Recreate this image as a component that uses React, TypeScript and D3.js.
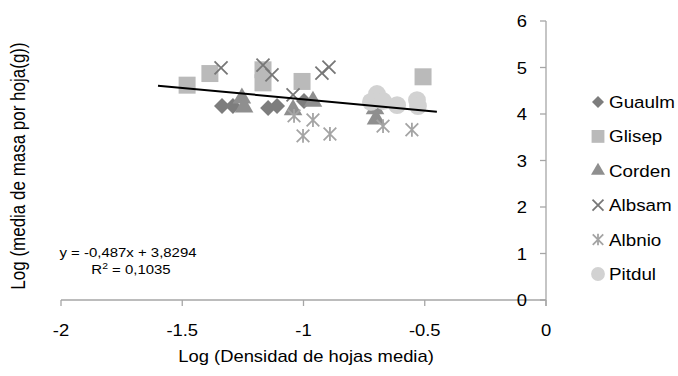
import React from "react";
import * as d3 from "d3";

// Series values: [log leaf density, log leaf mass]
const guaulm: [number, number][] = [
  [-1.336, 4.17], [-1.291, 4.17], [-1.146, 4.13], [-1.109, 4.17], [-0.998, 4.28],
];
const glisep: [number, number][] = [
  [-1.48, 4.62], [-1.386, 4.87], [-1.167, 4.95], [-1.167, 4.67], [-1.006, 4.7], [-0.507, 4.8],
];
const corden: [number, number][] = [
  [-1.254, 4.34], [-1.245, 4.15], [-1.043, 4.09], [-0.961, 4.27], [-0.705, 4.11], [-0.701, 3.89],
];
const albsam: [number, number][] = [
  [-1.34, 4.99], [-1.167, 5.05], [-1.13, 4.84], [-1.043, 4.41], [-0.924, 4.88], [-0.895, 5.01],
];
const albnio: [number, number][] = [
  [-1.039, 3.96], [-0.961, 3.87], [-1.002, 3.53], [-0.891, 3.57], [-0.672, 3.74], [-0.553, 3.66],
];
const pitdul: [number, number][] = [
  [-0.697, 4.43], [-0.722, 4.26], [-0.672, 4.28], [-0.614, 4.19], [-0.532, 4.3], [-0.528, 4.17],
];

const seriesNames = ["Guaulm", "Glisep", "Corden", "Albsam", "Albnio", "Pitdul"];
const xTicks = [-2, -1.5, -1, -0.5, 0];
const yTicks = [0, 1, 2, 3, 4, 5, 6];
const trendSlope = -0.487;
const trendIntercept = 3.8294;
const trendR2 = "0,1035";
const trendRange = [-1.6, -0.45];

const W = 678;
const H = 376;
const FONT = "'Liberation Sans', Arial, sans-serif";
const AXIS = "#a6a6a6";

const x = d3.scaleLinear().domain([-2, 0]).range([61, 546]);
const y = d3.scaleLinear().domain([0, 6]).range([300, 21]);

// Excel-style marker shapes
const crossType: d3.SymbolType = {
  draw(ctx, size) {
    const r = Math.sqrt(size) / 2;
    ctx.moveTo(-r, -r); ctx.lineTo(r, r);
    ctx.moveTo(-r, r); ctx.lineTo(r, -r);
  },
};
const starType: d3.SymbolType = {
  draw(ctx, size) {
    const r = Math.sqrt(size) / 2;
    ctx.moveTo(-r, -r); ctx.lineTo(r, r);
    ctx.moveTo(-r, r); ctx.lineTo(r, -r);
    ctx.moveTo(0, -r * 1.1); ctx.lineTo(0, r * 1.1);
  },
};

type Style = {
  type: d3.SymbolType;
  size: number;
  legendSize: number;
  fill: string;
  stroke: string;
  rotate: number;
};

const styles: Style[] = [
  { type: d3.symbolSquare, size: 128, legendSize: 72, fill: "#7d7d7d", stroke: "none", rotate: 45 },
  { type: d3.symbolSquare, size: 289, legendSize: 165, fill: "#bababa", stroke: "none", rotate: 0 },
  { type: d3.symbolTriangle, size: 150, legendSize: 85, fill: "#8f8f8f", stroke: "none", rotate: 0 },
  { type: crossType, size: 170, legendSize: 120, fill: "none", stroke: "#777777", rotate: 0 },
  { type: starType, size: 160, legendSize: 110, fill: "none", stroke: "#a4a4a4", rotate: 0 },
  { type: d3.symbolCircle, size: 250, legendSize: 150, fill: "#d2d2d2", stroke: "none", rotate: 0 },
];

const allSeries = [guaulm, glisep, corden, albsam, albnio, pitdul];

function SText(props: {
  x: number; y: number; size: number; sx?: number; anchor?: string; children: React.ReactNode;
}) {
  const { x: tx, y: ty, size, sx = 1.15, anchor = "start", children } = props;
  return (
    <text
      transform={`translate(${tx},${ty}) scale(${sx},1)`}
      fontSize={size}
      fontFamily={FONT}
      textAnchor={anchor}
      fill="#000"
    >
      {children}
    </text>
  );
}

function Marker({ s, cx, cy, legend }: { s: Style; cx: number; cy: number; legend?: boolean }) {
  const d = d3.symbol().type(s.type).size(legend ? s.legendSize : s.size)() || "";
  return (
    <path
      d={d}
      transform={`translate(${cx},${cy}) rotate(${s.rotate})`}
      fill={s.fill}
      stroke={s.stroke}
      strokeWidth={s.stroke === "none" ? 0 : 1.8}
    />
  );
}

export default function App() {
  const trendLine = d3
    .line<number>()
    .x((v) => x(v))
    .y((v) => y(trendSlope * v + trendIntercept));

  const legendY = d3.scalePoint<string>().domain(seriesNames).range([102, 274]);

  return (
    <svg
      width={W}
      height={H}
      style={{ position: "absolute", left: 0, top: 0, background: "#fff" }}
    >
      <rect width={W} height={H} fill="#fff" />

      {/* x axis */}
      <line x1={x(-2)} x2={x(0)} y1={y(0)} y2={y(0)} stroke={AXIS} strokeWidth={1.3} />
      {xTicks.map((t) => (
        <g key={"xt" + t}>
          <line x1={x(t)} x2={x(t)} y1={y(0)} y2={y(0) + 6} stroke={AXIS} strokeWidth={1.3} />
          <SText x={x(t)} y={336} size={16} anchor="middle">
            {String(t)}
          </SText>
        </g>
      ))}

      {/* y axis on the right */}
      <line x1={x(0)} x2={x(0)} y1={y(6)} y2={y(0) + 6} stroke={AXIS} strokeWidth={1.3} />
      {yTicks.map((t) => (
        <g key={"yt" + t}>
          <line x1={x(0) - 6} x2={x(0)} y1={y(t)} y2={y(t)} stroke={AXIS} strokeWidth={1.3} />
          <SText x={527} y={y(t) + 6} size={16} anchor="end">
            {String(t)}
          </SText>
        </g>
      ))}

      {/* axis titles */}
      <SText x={306} y={362} size={16} anchor="middle">
        Log (Densidad de hojas media)
      </SText>
      <text
        transform={`translate(25,166) rotate(-90) scale(1,1.15)`}
        fontSize={17}
        fontFamily={FONT}
        textAnchor="middle"
        fill="#000"
      >
        Log (media de masa por hoja(g))
      </text>

      {/* points */}
      {allSeries.map((pts, i) => (
        <g key={"s" + i}>
          {pts.map(([vx, vy], j) => (
            <Marker key={j} s={styles[i]} cx={x(vx)} cy={y(vy)} />
          ))}
        </g>
      ))}

      {/* linear trend */}
      <path d={trendLine(trendRange) || ""} fill="none" stroke="#000" strokeWidth={2} />

      {/* trend equation */}
      <SText x={128} y={257} size={13} anchor="middle">
        {`y = -${String(Math.abs(trendSlope)).replace(".", ",")}x + ${String(trendIntercept).replace(".", ",")}`}
      </SText>
      <SText x={131} y={274} size={13} anchor="middle">
        R<tspan dy={-5} fontSize={9}>2</tspan>
        <tspan dy={5}>{` = ${trendR2}`}</tspan>
      </SText>

      {/* legend */}
      {seriesNames.map((name, i) => (
        <g key={"lg" + name}>
          <Marker s={styles[i]} cx={598} cy={legendY(name) || 0} legend />
          <SText x={609} y={(legendY(name) || 0) + 6} size={16.5} sx={1.14}>
            {name}
          </SText>
        </g>
      ))}
    </svg>
  );
}
